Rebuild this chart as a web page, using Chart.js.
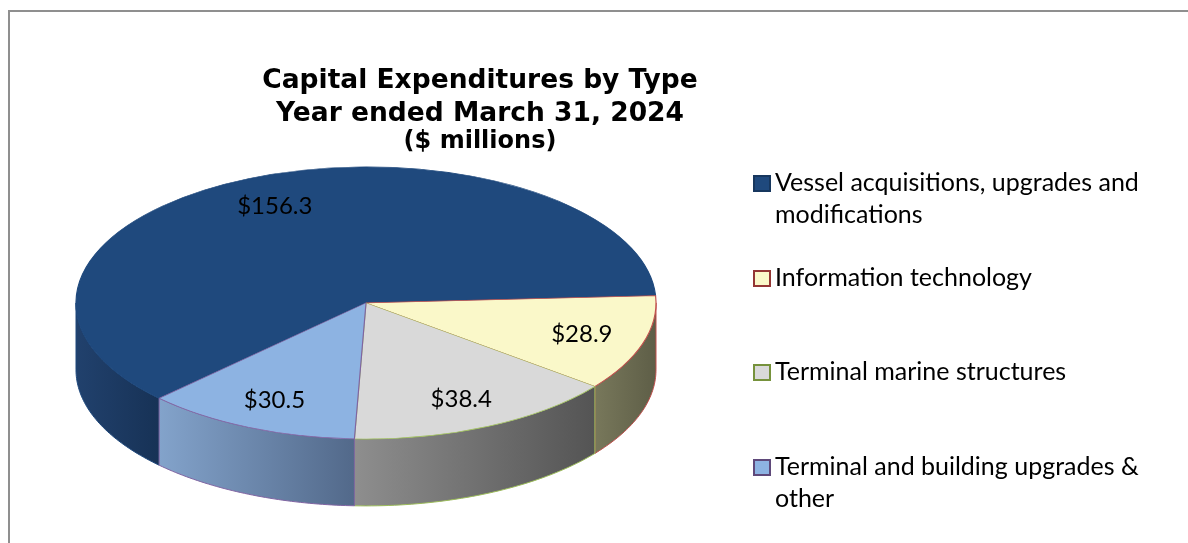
<!DOCTYPE html>
<html>
<head>
<meta charset="utf-8">
<title>Capital Expenditures by Type</title>
<script src="https://cdn.jsdelivr.net/npm/chart.js@4.4.1/dist/chart.umd.min.js"></script>
<style>
  body {
    margin: 0;
    width: 1188px;
    height: 543px;
    overflow: hidden;
    position: relative;
    background: #fff;
    font-family: Lato, "Noto Sans", sans-serif;
  }
  .frame {
    position: absolute;
    left: 8px;
    top: 10px;
    width: 1200px;
    height: 600px;
    border: 2px solid #8f8f8f;
    box-sizing: border-box;
  }
  .chart-box {
    position: absolute;
    left: 0;
    top: 0;
    width: 960px;
    height: 543px;
  }
  #legend {
    position: absolute;
    left: 753px;
    top: 165px;
  }
  .legend-item {
    display: flex;
    align-items: flex-start;
    height: 94.7px;
    font-size: 25px;
    line-height: 32px;
    color: #000;
  }
  .legend-swatch {
    flex: none;
    width: 14px;
    height: 13px;
    border: 2px solid;
    margin-top: 10px;
    margin-right: 4px;
  }
  .legend-text {
    width: 385px;
  }
</style>
</head>
<body>
<div class="frame"></div>
<div class="chart-box"><canvas id="capexChart"></canvas></div>
<div id="legend"></div>

<script>
// Werte in Mio. $
const categories = [
    'Vessel acquisitions, upgrades and modifications',
    'Information technology',
    'Terminal marine structures',
    'Terminal and building upgrades & other'
];
const spending = [156.3, 28.9, 38.4, 30.5];

const topColors = ['#1F497D', '#FAF8C9', '#D9D9D9', '#8DB3E2'];
const edgeColors = ['#1F497D', '#C0504D', '#9BBB59', '#8064A2'];
const swatchBorders = ['#17375E', '#943634', '#76923C', '#5F497A'];
const sideColors = [
    ['#21416D', '#173256'],
    ['#78785B', '#5E5E47'],
    ['#8E8E8E', '#545454'],
    ['#83A3CB', '#52698A']
];

// Form der "3D"-Torte
const PIE_RX = 290;
const PIE_RY = 136;
const DEPTH = 67;
const LABEL_POS = 0.78;

// Legende als HTML, damit die langen Einträge umbrechen
document.getElementById('legend').innerHTML = categories.map((name, i) => `
    <div class="legend-item">
        <span class="legend-swatch" style="background:${topColors[i]};border-color:${swatchBorders[i]}"></span>
        <span class="legend-text">${name.replace('&', '&amp;')}</span>
    </div>
`).join('');

// Platzhalter rechts, damit die Torte links sitzt, der Titel aber mittig bleibt
const legendSpace = {
    id: 'legendSpace',
    beforeInit(chart) {
        Chart.layouts.addBox(chart, {
            position: 'right',
            weight: 0,
            fullSize: false,
            options: {},
            left: 0, top: 0, right: 0, bottom: 0, width: 0, height: 0,
            isHorizontal() { return false; },
            update(maxWidth, maxHeight) {
                this.width = 228;
                this.height = maxHeight;
            },
            draw() {}
        });
    }
};

function drawSide(ctx, cx, cy, a, b, i) {
    const steps = 48;
    const px = t => cx + PIE_RX * Math.cos(t);
    const py = t => cy + PIE_RY * Math.sin(t);
    ctx.beginPath();
    for (let s = 0; s <= steps; s++) {
        const t = a + (b - a) * s / steps;
        if (s === 0) ctx.moveTo(px(t), py(t));
        else ctx.lineTo(px(t), py(t));
    }
    for (let s = steps; s >= 0; s--) {
        const t = a + (b - a) * s / steps;
        ctx.lineTo(px(t), py(t) + DEPTH);
    }
    ctx.closePath();
    const x1 = Math.min(px(a), px(b));
    const x2 = Math.max(px(a), px(b));
    const grad = ctx.createLinearGradient(x1, 0, x2, 0);
    grad.addColorStop(0, sideColors[i][0]);
    grad.addColorStop(1, sideColors[i][1]);
    ctx.fillStyle = grad;
    ctx.fill();
    ctx.lineWidth = 1;
    ctx.strokeStyle = edgeColors[i];
    ctx.stroke();
}

const pie3d = {
    id: 'pie3d',
    beforeDatasetsDraw(chart) {
        const ctx = chart.ctx;
        const arcs = chart.getDatasetMeta(0).data;
        const { x, y, outerRadius } = arcs[0];

        // Seitenwände nur auf der vorderen Hälfte
        arcs.forEach((arc, i) => {
            for (let k = -1; k <= 2; k++) {
                const a = Math.max(arc.startAngle, 2 * Math.PI * k);
                const b = Math.min(arc.endAngle, 2 * Math.PI * k + Math.PI);
                if (b > a) drawSide(ctx, x, y, a, b, i);
            }
        });

        ctx.save();
        ctx.translate(x, y);
        ctx.scale(PIE_RX / outerRadius, PIE_RY / outerRadius);
        ctx.translate(-x, -y);
    },
    afterDatasetsDraw(chart) {
        const ctx = chart.ctx;
        ctx.restore();

        const arcs = chart.getDatasetMeta(0).data;
        ctx.save();
        ctx.font = '24px Lato, "Noto Sans", sans-serif';
        ctx.fillStyle = '#000';
        ctx.textAlign = 'center';
        ctx.textBaseline = 'middle';
        arcs.forEach((arc, i) => {
            const mid = (arc.startAngle + arc.endAngle) / 2;
            const lx = arc.x + PIE_RX * LABEL_POS * Math.cos(mid);
            const ly = arc.y + PIE_RY * LABEL_POS * Math.sin(mid);
            ctx.fillText('$' + spending[i].toFixed(1), lx, ly);
        });
        ctx.restore();
    }
};

new Chart(document.getElementById('capexChart'), {
    type: 'pie',
    data: {
        labels: categories,
        datasets: [{
            data: spending,
            backgroundColor: topColors,
            borderColor: edgeColors,
            borderWidth: 0.6
        }]
    },
    options: {
        responsive: true,
        maintainAspectRatio: false,
        animation: false,
        events: [],
        rotation: 225.5,
        layout: {
            padding: { top: 0, bottom: 90, left: 0, right: 0 }
        },
        plugins: {
            legend: { display: false },
            tooltip: { enabled: false },
            title: {
                display: true,
                text: ['Capital Expenditures by Type', 'Year ended March 31, 2024'],
                color: '#000',
                font: { family: '"DejaVu Sans", Verdana, sans-serif', size: 26.5, weight: 'bold', lineHeight: 1.26 },
                padding: { top: 64, bottom: 0 }
            },
            subtitle: {
                display: true,
                text: '($ millions)',
                color: '#000',
                font: { family: '"DejaVu Sans", Verdana, sans-serif', size: 24, weight: 'bold', lineHeight: 0.917 },
                padding: { top: 0, bottom: 0 }
            }
        }
    },
    plugins: [legendSpace, pie3d]
});
</script>
</body>
</html>
